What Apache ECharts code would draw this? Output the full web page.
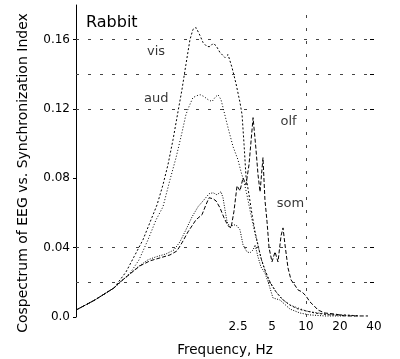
<!DOCTYPE html>
<html>
<head>
<meta charset="utf-8">
<script src="https://cdn.jsdelivr.net/npm/echarts@6/dist/echarts.min.js"></script>
<style>
html,body{margin:0;padding:0;background:#fff;}
#chart{width:400px;height:359px;}
</style>
</head>
<body>
<div id="chart"></div>
<script>
// Frequencies (Hz) and cospectrum values
const visFreq = [0.092,0.135,0.20,0.255,0.30,0.36,0.424,0.48,0.542,0.60,0.665,0.736,0.798,0.865,0.939,0.998,1.063,1.152,1.225,1.329,1.413,1.503,1.597,1.732,1.918,2.04,2.214,2.40,2.605,2.715,2.83,2.944,3.13,3.33,3.54,3.76,3.99,4.33,4.80,5.43,6.13,7.21,8.50,10,12.0,16.3,22.1,30.1];
const visVal  = [0.004,0.0098,0.0168,0.026,0.0347,0.0445,0.056,0.0647,0.0763,0.0879,0.1023,0.1185,0.1312,0.1457,0.160,0.1659,0.167,0.1624,0.1584,0.156,0.156,0.1578,0.1566,0.1526,0.1497,0.1514,0.1439,0.1347,0.1237,0.1168,0.0994,0.0809,0.0705,0.059,0.0491,0.0416,0.0341,0.0272,0.0202,0.0145,0.0104,0.0069,0.0046,0.0035,0.0023,0.0012,0.0012,0.0006];

const audFreq = [0.092,0.135,0.20,0.230,0.282,0.332,0.399,0.470,0.542,0.625,0.707,0.798,0.865,0.921,0.998,1.085,1.152,1.25,1.357,1.473,1.563,1.662,1.768,1.881,2.04,2.26,2.5,2.658,2.83,3.0,3.19,3.40,3.61,3.84,4.08,4.43,4.80,5.43,6.26,7.21,8.5,10,12.8,18.1,27.2];
const audVal  = [0.004,0.0098,0.0168,0.0202,0.026,0.0329,0.0445,0.056,0.0636,0.0792,0.0919,0.1064,0.1168,0.1214,0.1266,0.1277,0.1283,0.1272,0.1254,0.1243,0.1266,0.1283,0.1254,0.1185,0.1092,0.0983,0.0907,0.0838,0.0780,0.0705,0.0618,0.0532,0.0457,0.0387,0.0318,0.0249,0.0197,0.0145,0.0098,0.0069,0.0052,0.0035,0.0023,0.0012,0.0006];

const olfFreq = [0.092,0.135,0.20,0.226,0.277,0.339,0.416,0.51,0.625,0.72,0.798,0.902,1.063,1.20,1.30,1.386,1.503,1.597,1.732,1.881,2.04,2.17,2.30,2.452,2.605,2.77,2.944,3.13,3.40,3.61,3.76,3.92,4.16,4.33,4.52,4.71,5.0,5.32,5.65,6.01,6.26,6.52,6.93,7.37,7.83,8.50,9.22,10,10.85,11.8,12.8,14.7,18.1,22.1,35.4];
const olfVal  = [0.004,0.0098,0.0168,0.0202,0.0249,0.0295,0.0324,0.0341,0.0358,0.0381,0.0428,0.0491,0.0561,0.059,0.0647,0.0688,0.0682,0.067,0.063,0.0572,0.0526,0.0514,0.0607,0.0757,0.0728,0.0803,0.0763,0.0879,0.115,0.0965,0.0821,0.0722,0.0919,0.0676,0.0549,0.0399,0.0318,0.0376,0.0318,0.0468,0.0514,0.0416,0.0283,0.0214,0.0191,0.0156,0.0145,0.0121,0.0087,0.0064,0.004,0.0023,0.0017,0.0006,0.0006];

const somFreq = [0.092,0.135,0.20,0.221,0.271,0.325,0.399,0.470,0.577,0.679,0.766,0.865,0.98,1.107,1.25,1.386,1.503,1.628,1.768,1.842,1.918,2.0,2.127,2.304,2.452,2.605,2.77,3.0,3.19,3.40,3.54,3.76,3.99,4.33,4.71,5.10,5.89,7.21,8.85,10.85,14.7,22.1];
const somVal  = [0.004,0.0098,0.0168,0.0197,0.0243,0.0289,0.033,0.0347,0.0364,0.0387,0.0434,0.0503,0.0578,0.0636,0.0676,0.0711,0.0717,0.0705,0.0723,0.0688,0.0618,0.0549,0.052,0.0532,0.0526,0.0503,0.0416,0.0376,0.037,0.0387,0.0416,0.0347,0.0289,0.0254,0.0185,0.011,0.0098,0.0046,0.0023,0.0012,0.0006,0.0006];

// Axis ticks / labels
const xTickLabels = [2.5, 5, 10, 20, 40];
const yTickLabels = [0, 0.04, 0.08, 0.12, 0.16];
const yGridValues = [0.02, 0.04, 0.12, 0.14, 0.16];
const xGridValues = [10];
const xMinFreq = 0.092, xMaxFreq = 40;
const yMin = 0, yMax = 0.18;

// Curve labels (name, frequency, value)
const curveLabelNames = ['vis', 'aud', 'olf', 'som'];
const curveLabelFreq  = [0.47, 0.472, 7.0, 7.29];
const curveLabelVal   = [0.1529, 0.1257, 0.1127, 0.0653];

const L = Math.log2;
const toData = (fs, vs) => fs.map((f, i) => [L(f), vs[i]]);
const FONT = 'DejaVu Sans';

const chart = echarts.init(document.getElementById('chart'), null, {renderer: 'canvas'});

function lineSeries(name, fs, vs, dash) {
  return {
    name, type: 'line', data: toData(fs, vs), showSymbol: false, symbol: 'none',
    smooth: false, animation: false, silent: true,
    lineStyle: {color: '#000', width: 1, type: dash}
  };
}

const gridMarks = yGridValues.map(v => ({yAxis: v, lineStyle: {type: [3, 9]}}))
  .concat(xGridValues.map(f => ({xAxis: L(f), lineStyle: {type: [3, 10]}})));

chart.setOption({
  animation: false,
  backgroundColor: '#fff',
  title: {
    text: 'Rabbit', left: 86, top: 15, padding: 0,
    textStyle: {fontFamily: FONT, fontSize: 16, fontWeight: 'normal', color: '#000'}
  },
  grid: {left: 76, right: 26, top: 5, bottom: 42, containLabel: false, outerBoundsMode: 'none'},
  xAxis: {
    type: 'value', min: L(xMinFreq), max: L(xMaxFreq),
    name: 'Frequency, Hz', nameLocation: 'middle', nameGap: 26,
    nameTextStyle: {fontFamily: FONT, fontSize: 13.5, color: '#000'},
    axisLine: {show: false, onZero: false}, axisTick: {show: false}, splitLine: {show: false},
    axisLabel: {
      customValues: xTickLabels.map(L), margin: 4,
      fontFamily: FONT, fontSize: 12, color: '#000',
      formatter: v => String(Math.round(Math.pow(2, v) * 10) / 10)
    }
  },
  yAxis: [{
    type: 'value', min: yMin, max: yMax, position: 'left',
    axisLine: {show: true, onZero: false, lineStyle: {color: '#000', width: 1}},
    axisTick: {show: true, customValues: yTickLabels, length: 3, lineStyle: {color: '#000'}},
    splitLine: {show: false},
    axisLabel: {
      customValues: yTickLabels, margin: 6,
      fontFamily: FONT, fontSize: 12, color: '#000',
      formatter: v => v === 0 ? '0.0' : String(Math.round(v * 100) / 100)
    }
  }, {
    type: 'value', min: yMin, max: yMax, position: 'right',
    axisLine: {show: false, onZero: false},
    axisTick: {show: true, inside: true, customValues: yGridValues, length: 4, lineStyle: {color: '#000'}},
    axisLabel: {show: false}, splitLine: {show: false}
  }],
  graphic: [{
    type: 'text', x: 23, y: 173, rotation: Math.PI / 2,
    style: {
      text: 'Cospectrum of EEG vs. Synchronization Index',
      font: '14px "DejaVu Sans"', fill: '#000', align: 'center', verticalAlign: 'middle'
    }
  }],
  series: [
    {
      name: 'grid', type: 'line', data: [], silent: true,
      markLine: {
        silent: true, symbol: ['none', 'none'], label: {show: false}, animation: false,
        lineStyle: {color: '#444', width: 1},
        data: gridMarks
      }
    },
    lineSeries('vis', visFreq, visVal, [2, 2]),
    lineSeries('aud', audFreq, audVal, [1, 2]),
    lineSeries('olf', olfFreq, olfVal, [4, 2]),
    lineSeries('som', somFreq, somVal, [1, 1.5]),
    {
      name: 'labels', type: 'scatter', symbolSize: 1, silent: true,
      itemStyle: {color: 'rgba(0,0,0,0)'},
      label: {show: true, position: 'inside', formatter: '{b}', fontFamily: FONT, fontSize: 13, color: '#000'},
      data: curveLabelNames.map((n, i) => ({name: n, value: [L(curveLabelFreq[i]), curveLabelVal[i]]}))
    }
  ]
});
</script>
</body>
</html>
